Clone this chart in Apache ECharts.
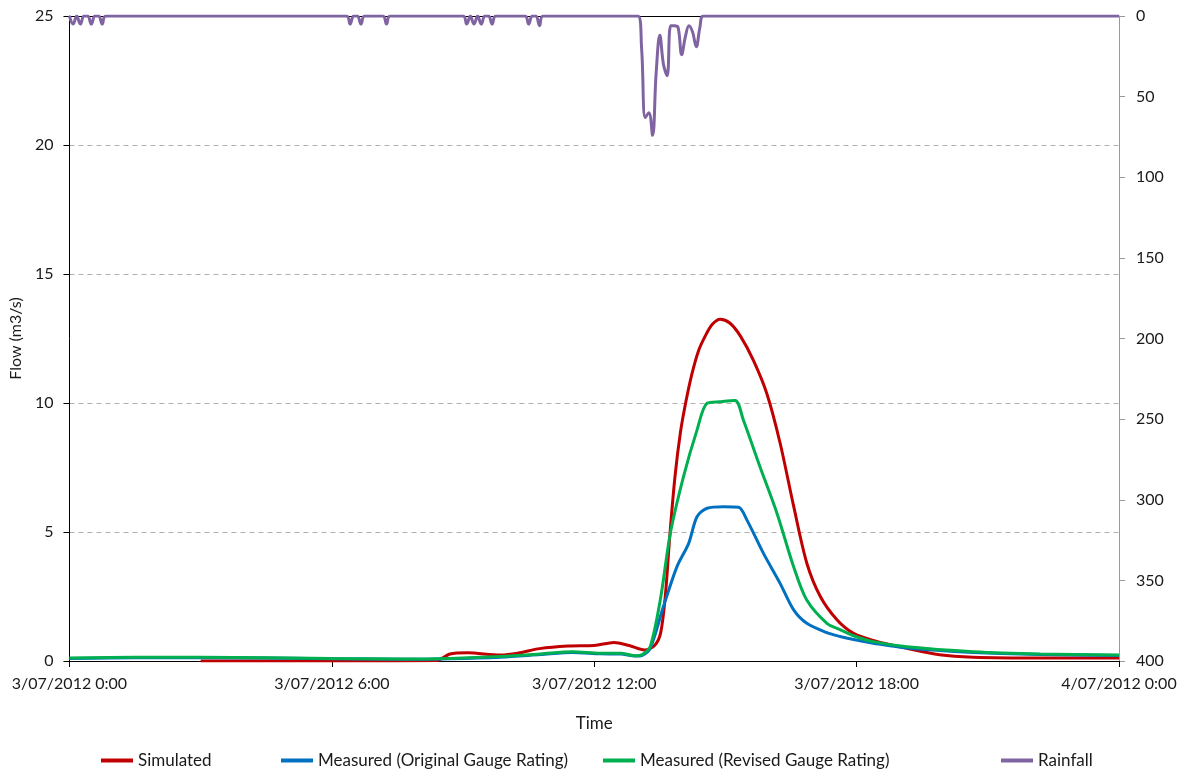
<!DOCTYPE html>
<html>
<head>
<meta charset="utf-8">
<script src="https://cdn.jsdelivr.net/npm/echarts@6/dist/echarts.min.js"></script>
<style>
html,body{margin:0;padding:0;background:#fff;}
#chart{width:1182px;height:769px;}
</style>
</head>
<body>
<div id="chart"></div>
<script>
// X tick labels (every 6 hours)
const xTickLabels = ["3/07/2012 0:00", "3/07/2012 6:00", "3/07/2012 12:00", "3/07/2012 18:00", "4/07/2012 0:00"];
const seriesNames = ["Simulated", "Measured (Original Gauge Rating)", "Measured (Revised Gauge Rating)", "Rainfall"];

// Simulated flow (hours since 3/07/2012 0:00, m3/s)
const simTime = [3.0, 6.0, 8.4, 8.7, 9.1, 9.85, 10.25, 10.75, 11.4, 12.0, 12.45, 12.8, 13.15, 13.38, 13.52, 13.63, 13.73, 13.85, 13.97, 14.09, 14.23, 14.38, 14.54, 14.7, 14.88, 15.1, 15.34, 15.64, 15.95, 16.25, 16.56, 16.86, 17.17, 17.55, 17.93, 18.38, 19.15, 19.9, 20.67, 22.2, 24.0];
const simFlow = [0.0, 0.0, 0.02, 0.27, 0.32, 0.23, 0.3, 0.48, 0.58, 0.6, 0.72, 0.6, 0.43, 0.6, 1.1, 2.6, 4.9, 7.2, 8.85, 10.0, 11.1, 12.0, 12.6, 13.05, 13.25, 13.1, 12.6, 11.65, 10.35, 8.45, 6.0, 3.8, 2.5, 1.6, 1.07, 0.8, 0.49, 0.24, 0.15, 0.12, 0.12];

// Measured (Original Gauge Rating)
const origTime = [0, 1.5, 3.0, 6.0, 7.6, 8.7, 9.85, 10.77, 11.5, 12.14, 12.6, 12.95, 13.1, 13.28, 13.58, 13.89, 14.16, 14.35, 14.58, 14.96, 15.3, 15.49, 15.87, 16.25, 16.56, 16.86, 17.32, 17.62, 17.93, 18.38, 19.15, 20.67, 22.2, 24.0];
const origFlow = [0.1, 0.13, 0.13, 0.09, 0.07, 0.09, 0.15, 0.25, 0.33, 0.28, 0.27, 0.19, 0.22, 0.49, 2.1, 3.65, 4.56, 5.59, 5.92, 5.98, 5.96, 5.47, 4.17, 3.01, 1.98, 1.46, 1.1, 0.95, 0.83, 0.69, 0.5, 0.33, 0.25, 0.21];

// Measured (Revised Gauge Rating)
const revTime = [0, 1.5, 3.0, 6.0, 7.6, 8.7, 9.85, 10.77, 11.5, 12.14, 12.6, 12.95, 13.1, 13.28, 13.51, 13.74, 14.04, 14.35, 14.58, 14.88, 15.22, 15.41, 15.79, 16.18, 16.56, 16.86, 17.32, 17.62, 17.93, 18.38, 19.15, 20.67, 22.2, 24.0];
const revFlow = [0.12, 0.15, 0.15, 0.1, 0.08, 0.1, 0.17, 0.27, 0.36, 0.3, 0.3, 0.2, 0.25, 0.55, 2.36, 4.95, 7.14, 8.95, 9.99, 10.05, 10.1, 9.34, 7.53, 5.72, 3.65, 2.36, 1.46, 1.22, 0.98, 0.75, 0.55, 0.36, 0.27, 0.23];

// Rainfall (right axis, inverted)
const rainTime = [0, 0.0833, 0.1667, 0.25, 0.3333, 0.4167, 0.5, 0.5833, 0.6667, 0.75, 0.8333,
  6.3333, 6.4167, 6.5, 6.5833, 6.6667, 6.75, 7.1667, 7.25, 7.3333,
  9.0, 9.0833, 9.1667, 9.25, 9.3333, 9.4167, 9.5, 9.5833, 9.6667, 9.75,
  10.4167, 10.5, 10.5833, 10.6667, 10.75, 10.8333,
  13.0, 13.0833, 13.1667, 13.25, 13.3333, 13.4167, 13.5, 13.5833, 13.6667, 13.75, 13.8333, 13.9167, 14.0, 14.0833, 14.1667, 14.25, 14.3333, 14.4167, 14.5,
  24.0];
const rainValue = [0, 5, 0, 5, 0, 0, 5, 0, 0, 5, 0,
  0, 5, 0, 0, 5, 0, 0, 5, 0,
  0, 5, 0, 5, 0, 5, 0, 0, 5, 0,
  0, 5, 0, 0, 6, 0,
  0, 20, 63, 60, 74, 35, 12, 30, 37, 6, 6, 7, 24, 13, 6, 10, 19, 7, 0,
  0];

const zip = (a, b) => a.map((t, i) => [t, b[i]]);
const font = 'Lato, "Liberation Sans", sans-serif';
const txt = '#1a1a1a';

const chart = echarts.init(document.getElementById('chart'), null, {renderer: 'canvas'});
const colors = ['#C00000', '#0070C0', '#00B050', '#8064A2'];
const legendLefts = [101, 281, 603, 1001];

chart.setOption({
  animation: false,
  backgroundColor: '#fff',
  textStyle: {fontFamily: font},
  color: colors,
  grid: {left: 69, right: 63, top: 16, bottom: 108, containLabel: false},
  legend: seriesNames.map((n, i) => ({
    data: [n], left: legendLefts[i], top: 752, itemWidth: 32, itemHeight: 4, padding: 0,
    icon: 'rect', itemGap: 0, textStyle: {fontSize: 17, color: txt, fontFamily: font}, selectedMode: false
  })),
  xAxis: [{
    type: 'value', min: 0, max: 24, interval: 6,
    name: 'Time', nameLocation: 'middle', nameGap: 54,
    nameTextStyle: {fontSize: 17, color: txt, fontFamily: font},
    axisLine: {show: true, onZero: false, lineStyle: {color: '#000', width: 1}},
    axisTick: {show: true, length: 6, lineStyle: {color: '#000'}},
    axisLabel: {fontSize: 16, color: txt, margin: 15, fontFamily: font,
      formatter: v => xTickLabels[Math.round(v / 6)]},
    splitLine: {show: false}
  }, {
    type: 'value', min: 0, max: 24, position: 'top',
    axisLine: {show: true, onZero: false, lineStyle: {color: '#000', width: 1}},
    axisTick: {show: false}, axisLabel: {show: false}, splitLine: {show: false}
  }],
  yAxis: [{
    type: 'value', min: 0, max: 25, interval: 5,
    name: 'Flow (m3/s)', nameLocation: 'middle', nameGap: 44, nameRotate: 90,
    nameTextStyle: {fontSize: 16, color: txt, fontFamily: font},
    axisLine: {show: true, onZero: false, lineStyle: {color: '#000', width: 1}},
    axisTick: {show: true, length: 6, lineStyle: {color: '#000'}},
    axisLabel: {fontSize: 16, color: txt, margin: 16, fontFamily: font},
    splitLine: {show: true, lineStyle: {color: '#b0b0b0', type: [5, 4], width: 1}}
  }, {
    type: 'value', min: 0, max: 400, interval: 50, inverse: true, position: 'right',
    axisLine: {show: true, onZero: false, lineStyle: {color: '#999', width: 1}},
    axisTick: {show: true, length: 6, lineStyle: {color: '#999'}},
    axisLabel: {fontSize: 16, color: txt, margin: 17, fontFamily: font},
    splitLine: {show: false}
  }],
  series: [
    {name: seriesNames[0], type: 'line', data: zip(simTime, simFlow), smooth: 0.3, showSymbol: false,
      lineStyle: {width: 3, color: colors[0]}, xAxisIndex: 0, yAxisIndex: 0},
    {name: seriesNames[1], type: 'line', data: zip(origTime, origFlow), smooth: 0.3, showSymbol: false,
      lineStyle: {width: 3, color: colors[1]}, xAxisIndex: 0, yAxisIndex: 0},
    {name: seriesNames[2], type: 'line', data: zip(revTime, revFlow), smooth: 0.3, showSymbol: false,
      lineStyle: {width: 3, color: colors[2]}, xAxisIndex: 0, yAxisIndex: 0},
    {name: seriesNames[3], type: 'line', data: zip(rainTime, rainValue), smooth: 0.4, showSymbol: false,
      lineStyle: {width: 3, color: colors[3]}, xAxisIndex: 0, yAxisIndex: 1}
  ]
});
</script>
</body>
</html>
